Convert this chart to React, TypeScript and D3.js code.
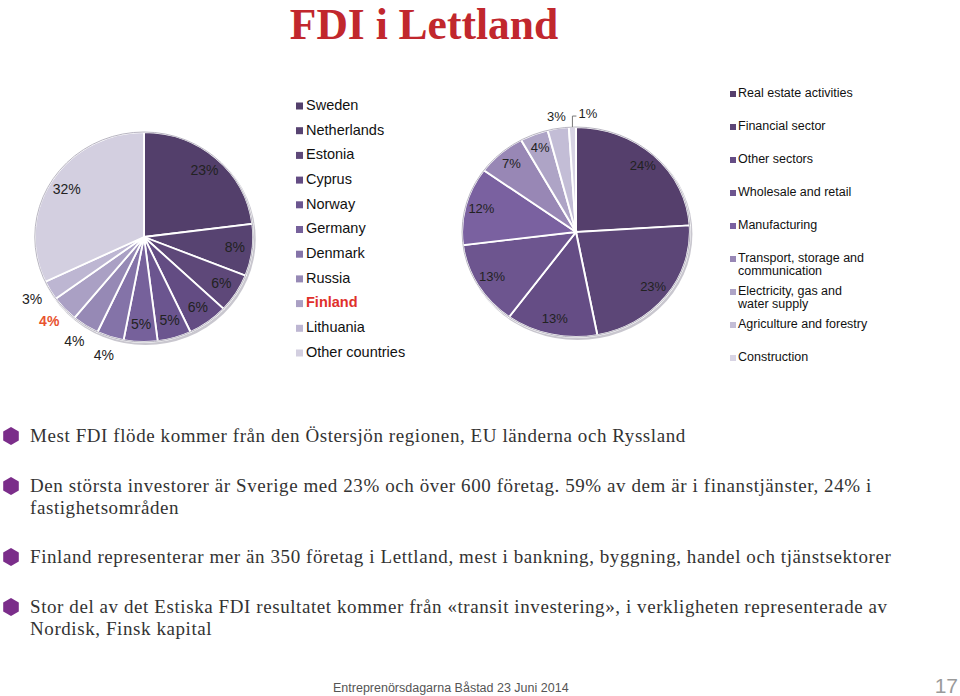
import React from 'react';
import * as d3 from 'd3';

const title = 'FDI i Lettland';

const countries = ['Sweden', 'Netherlands', 'Estonia', 'Cyprus', 'Norway', 'Germany', 'Denmark', 'Russia', 'Finland', 'Lithuania', 'Other countries'];
const countryShares = [23, 8, 6, 6, 5, 5, 4, 4, 4, 3, 32];
const countryColors = ['#533f6b', '#574371', '#5e4879', '#634c83', '#6b558f', '#76619b', '#8473a8', '#9689b5', '#aaa0c4', '#bdb6d2', '#d3cfe0'];
const highlightCountry = 'Finland';

const sectors = [
  ['Real estate activities'],
  ['Financial sector'],
  ['Other sectors'],
  ['Wholesale and retail'],
  ['Manufacturing'],
  ['Transport, storage and', 'communication'],
  ['Electricity, gas and', 'water supply'],
  ['Agriculture and forestry'],
  ['Construction'],
];
const sectorShares = [24, 23, 13, 13, 12, 7, 4, 3, 1];
const sectorColors = ['#553f6c', '#5c4677', '#654d85', '#6d558f', '#7a61a0', '#9887b5', '#aea4c6', '#c3bdd6', '#d8d4e4'];

const bullets = [
  ['Mest FDI flöde kommer från den Östersjön regionen, EU länderna och Ryssland'],
  ['Den största investorer är Sverige med 23% och över 600 företag. 59% av dem är i finanstjänster, 24% i', 'fastighetsområden'],
  ['Finland representerar mer än 350 företag i Lettland, mest i bankning, byggning, handel och tjänstsektorer'],
  ['Stor del av det Estiska FDI resultatet kommer från «transit investering», i verkligheten representerade av', 'Nordisk, Finsk kapital'],
];

const footer = 'Entreprenörsdagarna Båstad 23 Juni 2014';
const pageNo = '17';

type PieProps = {
  values: number[];
  colors: string[];
  cx: number;
  cy: number;
  r: number;
  sx: number;
  inner: number;
  outer: number;
  outsideBelow: number;
  fontSize: number;
  highlightIndex?: number;
  leaderIndex?: number;
};

function Pie({ values, colors, cx, cy, r, sx, inner, outer, outsideBelow, fontSize, highlightIndex, leaderIndex }: PieProps) {
  const pie = d3.pie<number>().sort(null).value((d) => d);
  const arcs = pie(values);
  const arc = d3.arc<d3.PieArcDatum<number>>().innerRadius(0).outerRadius(r);
  const inArc = d3.arc<d3.PieArcDatum<number>>().innerRadius(inner).outerRadius(inner);
  const outArc = d3.arc<d3.PieArcDatum<number>>().innerRadius(outer).outerRadius(outer);
  const edgeArc = d3.arc<d3.PieArcDatum<number>>().innerRadius(r).outerRadius(r);
  return (
    <g>
      <ellipse cx={cx + 1.5} cy={cy + 2} rx={r * sx + 1} ry={r + 1} fill="#c9c7cf" />
      <g transform={`translate(${cx},${cy}) scale(${sx},1)`}>
        {arcs.map((a, i) => (
          <path key={i} d={arc(a) || ''} fill={colors[i]} stroke="#ffffff" strokeWidth={1.8} />
        ))}
      </g>
      <ellipse cx={cx} cy={cy} rx={r * sx} ry={r} fill="none" stroke="#b9b6c2" strokeWidth={1} />
      {arcs.map((a, i) => {
        if (i === leaderIndex) {
          const [ex, ey] = edgeArc.centroid(a);
          const x0 = cx + ex * sx;
          const y0 = cy + ey;
          const y1 = y0 - 11;
          return (
            <g key={'l' + i}>
              <polyline points={`${x0},${y0} ${x0},${y1} ${x0 + 4},${y1}`} fill="none" stroke="#777" strokeWidth={1} />
              <text x={x0 + 6} y={y1 - 1} fontFamily="Arial, 'Liberation Sans', sans-serif" fontSize={fontSize} fill="#222" dominantBaseline="middle">
                {values[i]}%
              </text>
            </g>
          );
        }
        const outside = values[i] < outsideBelow;
        const [lx, ly] = (outside ? outArc : inArc).centroid(a);
        const hl = i === highlightIndex;
        return (
          <text
            key={'t' + i}
            x={cx + lx * sx}
            y={cy + ly}
            textAnchor="middle"
            dominantBaseline="middle"
            fontFamily="Arial, 'Liberation Sans', sans-serif"
            fontSize={fontSize}
            fontWeight={hl ? 'bold' : 'normal'}
            fill={hl ? '#e8532f' : '#222'}
          >
            {values[i]}%
          </text>
        );
      })}
    </g>
  );
}

function Hexagon({ x, y, s }: { x: number; y: number; s: number }) {
  const pts = d3.range(6).map((k) => {
    const ang = (Math.PI / 3) * k - Math.PI / 2;
    return `${x + s * Math.cos(ang)},${y + s * Math.sin(ang)}`;
  });
  return <polygon points={pts.join(' ')} fill="#7b2d8a" />;
}

export default function App() {
  const leftRowY = d3.scaleLinear().domain([0, countries.length - 1]).range([106, 353]);
  const rightRowY = d3.scaleLinear().domain([0, sectors.length - 1]).range([94, 358]);
  const bulletY = [442, 492, 563, 613];
  const highlightIdx = countries.indexOf(highlightCountry);
  return (
    <svg width={960} height={696} style={{ position: 'absolute', left: 0, top: 0, background: '#fff' }}>
      <rect width={960} height={696} fill="#fff" />
      <text x={424} y={39} textAnchor="middle" fontFamily="'Liberation Serif', 'Times New Roman', serif" fontWeight="bold" fontSize={43.5} fill="#c1272d">
        {title}
      </text>

      <Pie values={countryShares} colors={countryColors} cx={144} cy={237} r={105} sx={1.04} inner={88} outer={125} outsideBelow={5} fontSize={14} highlightIndex={highlightIdx} />

      {countries.map((c, i) => {
        const hl = c === highlightCountry;
        return (
          <g key={c}>
            <rect x={296} y={leftRowY(i) - 3.5} width={7} height={7} fill={countryColors[i]} />
            <text x={306} y={leftRowY(i)} dominantBaseline="middle" fontFamily="Arial, 'Liberation Sans', sans-serif" fontSize={14.5} fontWeight={hl ? 'bold' : 'normal'} fill={hl ? '#e0302b' : '#111'}>
              {c}
            </text>
          </g>
        );
      })}

      <Pie values={sectorShares} colors={sectorColors} cx={576} cy={232} r={105} sx={1.085} inner={90} outer={116} outsideBelow={4} fontSize={13} leaderIndex={sectorShares.length - 1} />

      {sectors.map((lines, i) => (
        <g key={lines[0]}>
          <rect x={730} y={rightRowY(i) - 3} width={6} height={6} fill={sectorColors[i]} />
          {lines.map((ln, j) => (
            <text key={j} x={738} y={rightRowY(i) + j * 13} dominantBaseline="middle" fontFamily="Arial, 'Liberation Sans', sans-serif" fontSize={12.5} fill="#111">
              {ln}
            </text>
          ))}
        </g>
      ))}

      {bullets.map((lines, i) => (
        <g key={i}>
          <Hexagon x={11} y={bulletY[i] - 6} s={9} />
          {lines.map((ln, j) => (
            <text key={j} x={30} y={bulletY[i] + j * 21.5} fontFamily="'Liberation Serif', 'Times New Roman', serif" fontSize={19} letterSpacing={0.58} fill="#333">
              {ln}
            </text>
          ))}
        </g>
      ))}

      <text x={333} y={692} fontFamily="Arial, 'Liberation Sans', sans-serif" fontSize={12.5} fill="#555">
        {footer}
      </text>
      <text x={958} y={693} textAnchor="end" fontFamily="Arial, 'Liberation Sans', sans-serif" fontSize={21} fill="#9a9a9a">
        {pageNo}
      </text>
    </svg>
  );
}
